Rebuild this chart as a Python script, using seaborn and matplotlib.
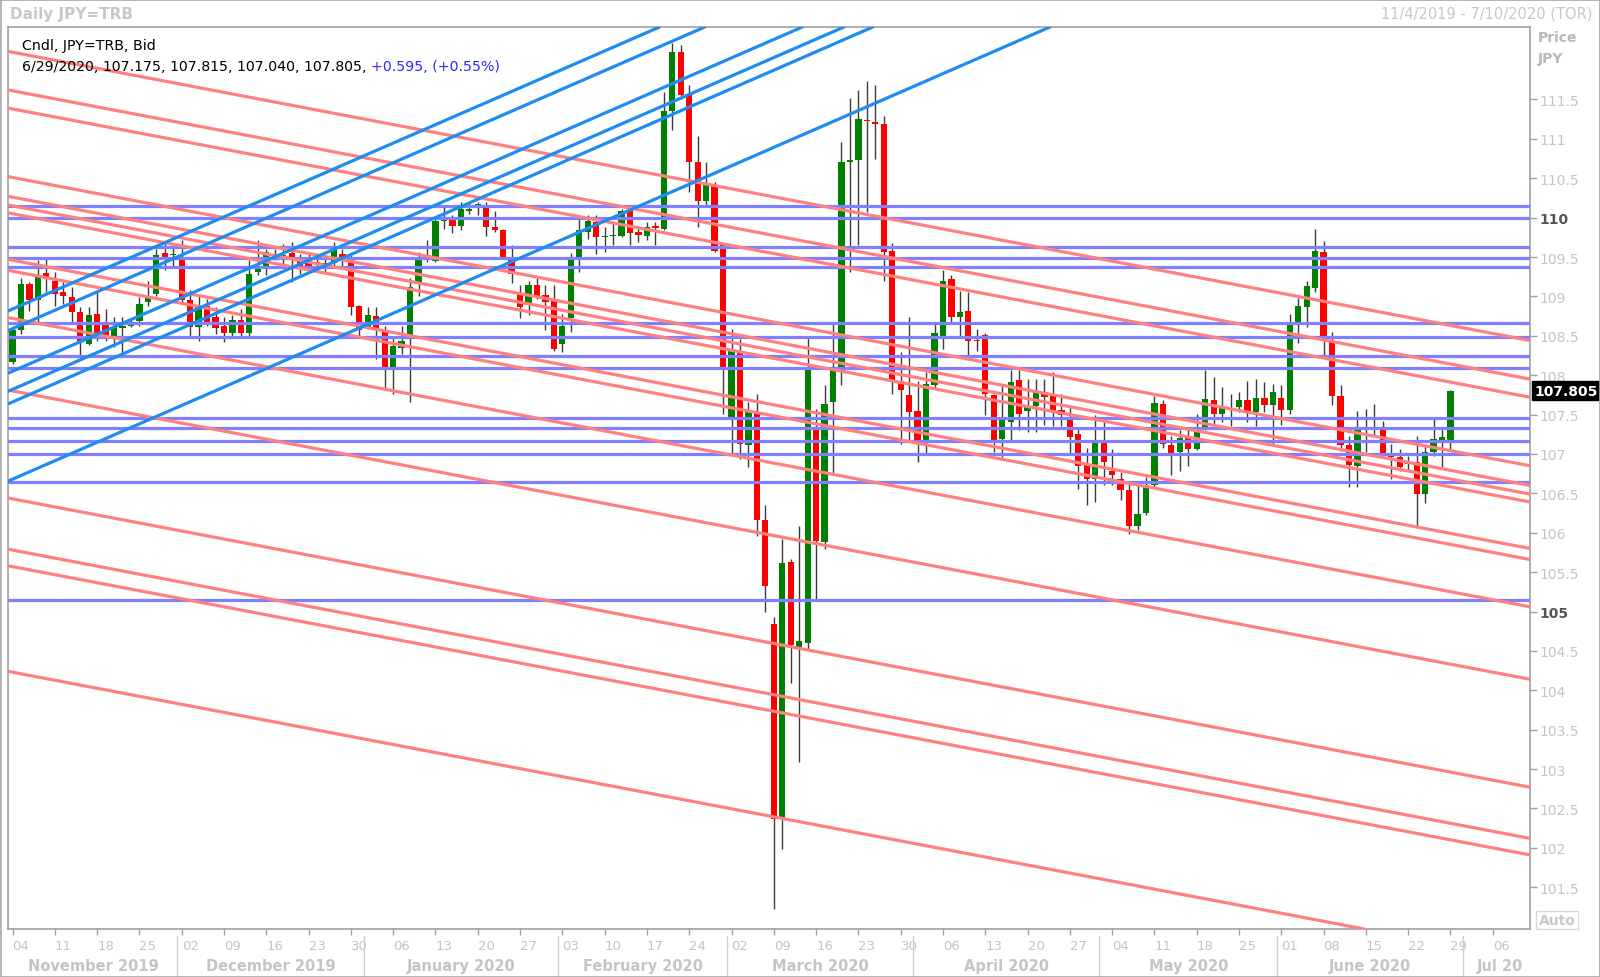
import numpy as np
import pandas as pd
import seaborn as sns
import matplotlib.pyplot as plt
from matplotlib.patches import Rectangle
import matplotlib.transforms as mtransforms

# daily candles JPY=TRB, business days from 4 Nov 2019 to 29 Jun 2020
opens = [108.17, 108.58, 109.16, 108.96, 109.30, 109.20, 109.05, 108.99, 108.80, 108.39,
         108.78, 108.64, 108.50, 108.60, 108.63, 108.69, 108.93, 109.03, 109.55, 109.52,
         109.46, 108.96, 108.61, 108.88, 108.74, 108.63, 108.53, 108.70, 108.53, 109.31,
         109.37, 109.52, 109.50, 109.55, 109.50, 109.43, 109.44, 109.43, 109.43, 109.54,
         109.46, 108.88, 108.60, 108.75, 108.55, 108.10, 108.34, 108.46, 109.16, 109.52,
         109.455, 109.96, 109.97, 109.90, 110.09, 110.16, 110.15, 109.88, 109.84, 109.48,
         109.03, 108.89, 109.15, 109.02, 108.95, 108.39, 108.72, 109.50, 109.82, 109.94,
         109.75, 109.77, 109.77, 110.10, 109.82, 109.77, 109.89, 109.86, 111.36, 112.10,
         111.57, 110.70, 110.21, 110.41, 109.67, 107.43, 108.31, 107.11, 107.53, 106.16,
         104.84, 102.37, 105.63, 104.55, 104.60, 107.30, 105.88, 107.66, 108.04, 110.70,
         110.73, 111.24, 111.21, 111.19, 109.58, 107.93, 107.75, 107.54, 107.17, 107.87,
         108.50, 109.22, 108.74, 108.81, 108.45, 108.51, 107.75, 107.19, 107.40, 107.94,
         107.54, 107.61, 107.79, 107.74, 107.56, 107.45, 107.25, 106.86, 106.68, 107.15,
         106.79, 106.68, 106.54, 106.09, 106.25, 106.60, 107.64, 107.12, 107.02, 107.23,
         107.06, 107.32, 107.69, 107.51, 107.58, 107.59, 107.69, 107.53, 107.71, 107.62,
         107.71, 107.56, 108.65, 108.86, 109.11, 109.57, 108.42, 107.74, 107.11, 106.85,
         107.33, 107.31, 107.32, 106.98, 106.96, 106.87, 106.90, 106.49, 107.03, 107.18,
         107.175]
highs = [108.62, 109.24, 109.18, 109.46, 109.47, 109.31, 109.18, 109.12, 108.86, 108.86,
         109.05, 108.84, 108.74, 108.74, 108.71, 108.99, 109.20, 109.60, 109.69, 109.67,
         109.71, 109.08, 109.01, 108.97, 108.86, 108.74, 108.77, 108.84, 109.46, 109.71,
         109.60, 109.60, 109.67, 109.69, 109.54, 109.54, 109.50, 109.50, 109.69, 109.60,
         109.52, 108.89, 108.86, 108.86, 108.63, 108.50, 108.63, 109.24, 109.56, 109.71,
         110.00, 110.13, 110.03, 110.20, 110.18, 110.20, 110.20, 110.09, 109.86, 109.65,
         109.14, 109.19, 109.23, 109.14, 109.14, 108.78, 109.55, 109.98, 110.03, 110.03,
         109.88, 109.94, 110.11, 110.11, 109.90, 109.94, 109.94, 111.59, 112.22, 112.19,
         111.68, 111.04, 110.70, 110.45, 109.68, 108.59, 108.46, 107.66, 107.76, 106.35,
         104.93, 105.92, 105.67, 106.08, 108.50, 107.57, 107.87, 108.65, 110.96, 111.52,
         111.62, 111.73, 111.69, 111.29, 109.68, 108.29, 108.74, 107.93, 108.04, 108.65,
         109.34, 109.27, 109.07, 109.05, 108.59, 108.54, 107.76, 107.87, 108.07, 108.06,
         107.95, 107.95, 107.95, 108.04, 107.76, 107.62, 107.32, 107.07, 107.49, 107.40,
         107.06, 106.77, 106.62, 106.62, 106.71, 107.74, 107.68, 107.23, 107.31, 107.32,
         107.51, 108.06, 107.98, 107.85, 107.76, 107.79, 107.92, 107.95, 107.91, 107.89,
         107.87, 108.78, 108.98, 109.20, 109.86, 109.70, 108.55, 107.87, 107.23, 107.55,
         107.57, 107.64, 107.42, 107.13, 107.06, 106.98, 107.23, 107.11, 107.44, 107.33,
         107.815]
lows = [108.14, 108.52, 108.82, 108.67, 109.05, 108.88, 108.91, 108.67, 108.25, 108.38,
        108.44, 108.44, 108.36, 108.25, 108.61, 108.62, 108.88, 109.01, 109.33, 109.39,
        108.91, 108.48, 108.43, 108.63, 108.52, 108.42, 108.50, 108.50, 108.50, 109.27,
        109.27, 109.46, 109.41, 109.18, 109.29, 109.37, 109.37, 109.29, 109.37, 109.39,
        108.76, 108.50, 108.59, 108.21, 107.83, 107.76, 108.27, 107.66, 109.01, 109.44,
        109.44, 109.86, 109.80, 109.84, 110.05, 110.03, 109.77, 109.82, 109.48, 109.17,
        108.72, 108.76, 108.97, 108.57, 108.31, 108.29, 108.55, 109.31, 109.73, 109.54,
        109.56, 109.65, 109.75, 109.65, 109.69, 109.71, 109.65, 109.84, 111.11, 111.51,
        110.32, 109.88, 110.13, 109.56, 107.51, 107.00, 106.94, 106.83, 105.96, 104.99,
        101.23, 101.99, 104.09, 103.09, 104.53, 105.16, 105.80, 106.73, 107.87, 109.31,
        109.65, 110.07, 110.74, 109.19, 107.76, 107.13, 107.17, 106.90, 107.01, 107.83,
        108.33, 108.67, 108.50, 108.25, 108.31, 107.49, 107.02, 106.96, 107.18, 107.30,
        107.28, 107.28, 107.37, 107.36, 107.36, 107.01, 106.56, 106.35, 106.39, 106.61,
        106.60, 106.41, 105.99, 106.03, 106.22, 106.58, 107.07, 106.73, 106.78, 106.85,
        107.05, 107.30, 107.36, 107.40, 107.36, 107.53, 107.40, 107.36, 107.53, 107.11,
        107.37, 107.51, 108.41, 108.61, 109.05, 108.25, 107.62, 107.04, 106.58, 106.58,
        107.02, 107.24, 107.00, 106.68, 106.78, 106.79, 106.09, 106.38, 106.97, 106.83,
        107.040]
closes = [108.57, 109.16, 108.96, 109.25, 109.22, 109.03, 109.01, 108.80, 108.42, 108.77,
          108.51, 108.51, 108.61, 108.63, 108.65, 108.91, 109.01, 109.52, 109.48, 109.54,
          108.95, 108.61, 108.88, 108.67, 108.60, 108.53, 108.70, 108.54, 109.29, 109.37,
          109.56, 109.54, 109.53, 109.48, 109.39, 109.39, 109.42, 109.41, 109.62, 109.50,
          108.86, 108.57, 108.77, 108.60, 108.10, 108.37, 108.44, 109.12, 109.50, 109.46,
          109.96, 109.98, 109.90, 110.11, 110.11, 110.17, 109.88, 109.84, 109.48, 109.29,
          108.86, 109.14, 108.99, 108.93, 108.33, 108.63, 109.50, 109.84, 109.96, 109.75,
          109.77, 109.78, 110.09, 109.80, 109.78, 109.88, 109.87, 111.36, 112.10, 111.56,
          110.70, 110.21, 110.41, 109.58, 108.10, 108.31, 107.13, 107.53, 106.16, 105.33,
          102.37, 105.62, 104.57, 104.62, 108.06, 105.90, 107.64, 108.06, 110.70, 110.73,
          111.25, 111.23, 111.19, 109.56, 107.93, 107.81, 107.53, 107.17, 107.89, 108.53,
          109.20, 108.74, 108.80, 108.44, 108.43, 107.76, 107.18, 107.44, 107.91, 107.51,
          107.61, 107.79, 107.72, 107.55, 107.49, 107.21, 106.85, 106.68, 107.15, 106.90,
          106.73, 106.54, 106.09, 106.24, 106.60, 107.65, 107.13, 107.01, 107.20, 107.06,
          107.32, 107.70, 107.51, 107.58, 107.57, 107.69, 107.53, 107.71, 107.62, 107.79,
          107.56, 108.65, 108.88, 109.13, 109.58, 108.48, 107.73, 107.11, 106.86, 107.33,
          107.31, 107.33, 107.01, 106.96, 106.83, 106.88, 106.49, 107.03, 107.19, 107.21,
          107.805]

# horizontal levels
h_levels = [110.15, 110.0, 109.63, 109.49, 109.37, 108.66, 108.48, 108.25, 108.09,
            107.46, 107.33, 107.16, 107.0, 106.65, 105.14]
# falling trend lines: price at first bar, shared slope per bar
red_starts = [112.10, 111.61, 111.38, 110.51, 110.26, 110.15, 110.05, 109.46, 109.32,
              108.72, 107.80, 106.43, 105.78, 105.57, 104.23]
red_slope = -0.0204
# rising trend lines
blue_starts = [108.84, 108.59, 108.05, 107.82, 107.66, 106.68]
blue_slope = 0.0468

y_ticks = [101.5, 102, 102.5, 103, 103.5, 104, 104.5, 105, 105.5, 106, 106.5, 107,
           107.5, 108, 108.5, 109, 109.5, 110, 110.5, 111, 111.5]
bold_ticks = [105, 110]
month_names = ['November 2019', 'December 2019', 'January 2020', 'February 2020',
               'March 2020', 'April 2020', 'May 2020', 'June 2020', 'Jul 20']

dates = pd.bdate_range('2019-11-04', '2020-07-10')
df = pd.DataFrame({'date': dates[:len(opens)], 'open': opens, 'high': highs,
                   'low': lows, 'close': closes})
df['x'] = np.arange(len(df))
df['up'] = df['close'] >= df['open']

sns.set_theme(style='white')
plt.rcParams['font.family'] = ['DejaVu Sans']

W, H = 1600, 978
fig = plt.figure(figsize=(16, 9.78), dpi=100)
ax = fig.add_axes([8.3 / W, 1 - 930 / H, (1530 - 8.3) / W, (930 - 28) / H])
ax.set_xlim(-0.5, 179.4)
ax.set_ylim(100.97, 112.42)

light = '#c4c4c4'

# candles
ax.vlines(df['x'], df['low'], df['high'], color='#3a3a3a', lw=1.0, zorder=2)
body_lo = df[['open', 'close']].min(axis=1)
body_h = (df['close'] - df['open']).abs().clip(lower=0.015)
ax.bar(df['x'], body_h, bottom=body_lo, width=0.74,
       color=np.where(df['up'], '#008000', '#ff0000'), lw=0, zorder=2.5)

# lines
for lv in h_levels:
    ax.axhline(lv, color='#8080ff', lw=2.3, zorder=3)
for p in red_starts:
    ax.axline((0, p), slope=red_slope, color='#ff8080', lw=2.3, zorder=3.2)
for p in blue_starts:
    ax.axline((0, p), slope=blue_slope, color='#1e8cf0', lw=2.3, zorder=3.4)

# right price axis
ax.yaxis.tick_right()
ax.set_yticks(y_ticks)
ax.set_yticklabels([('%g' % t) for t in y_ticks])
ax.tick_params(axis='y', right=True, length=5, width=1, color='#a0a0a0',
               labelsize=10, labelcolor=light, pad=2)
for t, lab in zip(y_ticks, ax.get_yticklabels()):
    if t in bold_ticks:
        lab.set_color('#555555')
        lab.set_fontweight('bold')

# bottom date axis
mondays = [i for i, d in enumerate(dates) if d.weekday() == 0]
ax.set_xticks(mondays)
ax.set_xticklabels(['%02d' % dates[i].day for i in mondays], ha='left')
ax.tick_params(axis='x', bottom=True, length=4, width=1, color='#a0a0a0',
               labelsize=9.5, labelcolor=light, pad=3)
for lab in ax.get_xticklabels():
    lab.set_transform(lab.get_transform() +
                      mtransforms.ScaledTranslation(0, 0, fig.dpi_scale_trans))

month_id = dates.year * 12 + dates.month
starts = [0] + [i for i in range(1, len(dates)) if month_id[i] != month_id[i - 1]]
ends = starts[1:] + [179.4]
trans = ax.get_xaxis_transform()
for k, (s, e) in enumerate(zip(starts, ends)):
    mid = (s - 0.5 + e - 0.5) / 2 if k < len(starts) - 1 else s + 3.8
    ax.text(mid, -0.04, month_names[k], transform=trans, ha='center', va='center',
            fontsize=10.5, fontweight='bold', color=light, clip_on=False)
    if s > 0:
        ax.plot([s - 0.5, s - 0.5], [-0.008, -0.058], transform=trans, color='#d0d0d0',
                lw=1, clip_on=False)

for sp in ax.spines.values():
    sp.set_color('#a0a0a0')
    sp.set_linewidth(1.2)

# header and legend texts
fig.text(10 / W, 1 - 14 / H, 'Daily JPY=TRB', fontsize=11, fontweight='bold',
         color='#c8c8c8', va='center')
fig.text(1592 / W, 1 - 14 / H, '11/4/2019 - 7/10/2020 (TOR)', fontsize=10.5,
         color='#c8c8c8', va='center', ha='right')
fig.text(1538 / W, 1 - 38 / H, 'Price', fontsize=10, fontweight='bold',
         color='#b8b8b8', va='center')
fig.text(1538 / W, 1 - 59 / H, 'JPY', fontsize=10, fontweight='bold',
         color='#b8b8b8', va='center')
fig.text(22 / W, 1 - 46 / H, 'Cndl, JPY=TRB, Bid', fontsize=10.2, color='black',
         va='center')
t1 = fig.text(22 / W, 1 - 67 / H, '6/29/2020, 107.175, 107.815, 107.040, 107.805, ',
              fontsize=10.2, color='black', va='center')
fig.canvas.draw()
bb = t1.get_window_extent()
fig.text(bb.x1 / W, 1 - 67 / H, '+0.595, (+0.55%)', fontsize=10.2, color='#2a2aff',
         va='center')

# last price tag
ax.text(1.003, closes[-1], '%.3f' % closes[-1], transform=ax.get_yaxis_transform(),
        ha='left', va='center', fontsize=10, fontweight='bold', color='white',
        bbox=dict(boxstyle='square,pad=0.15', fc='black', ec='black'), zorder=10,
        clip_on=False)

# "Auto" box
fig.text(1557 / W, 1 - 921 / H, 'Auto', fontsize=10, fontweight='bold', color='#c8c8c8',
         ha='center', va='center',
         bbox=dict(boxstyle='square,pad=0.15', fc='white', ec='#d8d8d8'))

fig.patches.append(Rectangle((0.5 / W, 0.5 / H), 1 - 1 / W, 1 - 1 / H, fill=False,
                             ec='#a8a8a8', lw=1.2, transform=fig.transFigure))

fig.savefig('out.png', dpi=100, facecolor='white')
